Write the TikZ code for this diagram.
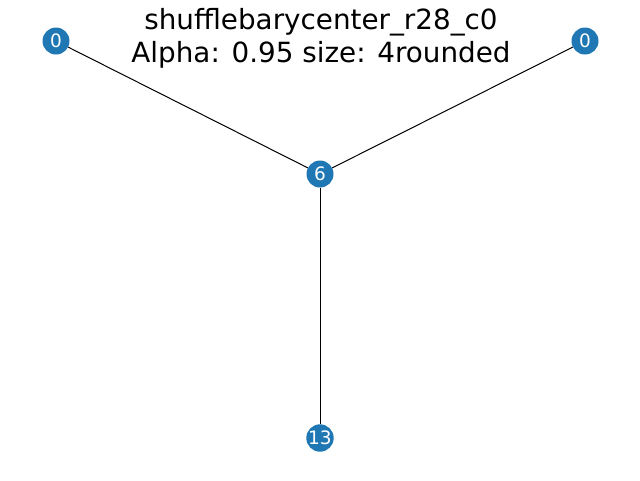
\documentclass[tikz,border=0pt]{standalone}
\usepackage{fontspec}
\setmainfont{DejaVu Sans}
\definecolor{nodeblue}{HTML}{1F77B4}
\begin{document}
\begin{tikzpicture}[x=1pt,y=-1pt,
	vert/.style={circle,fill=nodeblue,inner sep=0pt,minimum size=27pt,text=white,font=\fontsize{18.5}{20}\selectfont},
	edge/.style={draw,line width=1pt}]
	\useasboundingbox (0,0) rectangle (640,480);
	\coordinate (center) at (320,174);
	\node (title) at (321,38) [align=center,font=\fontsize{27.8}{33}\selectfont] {shufflebarycenter\_r28\_c0\\Alpha: 0.95 size: 4rounded};
	\node (L) at (56,41) [vert] {0};
	\node (R) at (585,41) [vert] {0};
	\node (C) at (center) [vert] {6};
	\node (B) at (320,438) [vert] {13};
	\draw[edge] (C) -- (L);
	\draw[edge] (C) -- (R);
	\draw[edge] (C) -- (B);
\end{tikzpicture}
\end{document}
